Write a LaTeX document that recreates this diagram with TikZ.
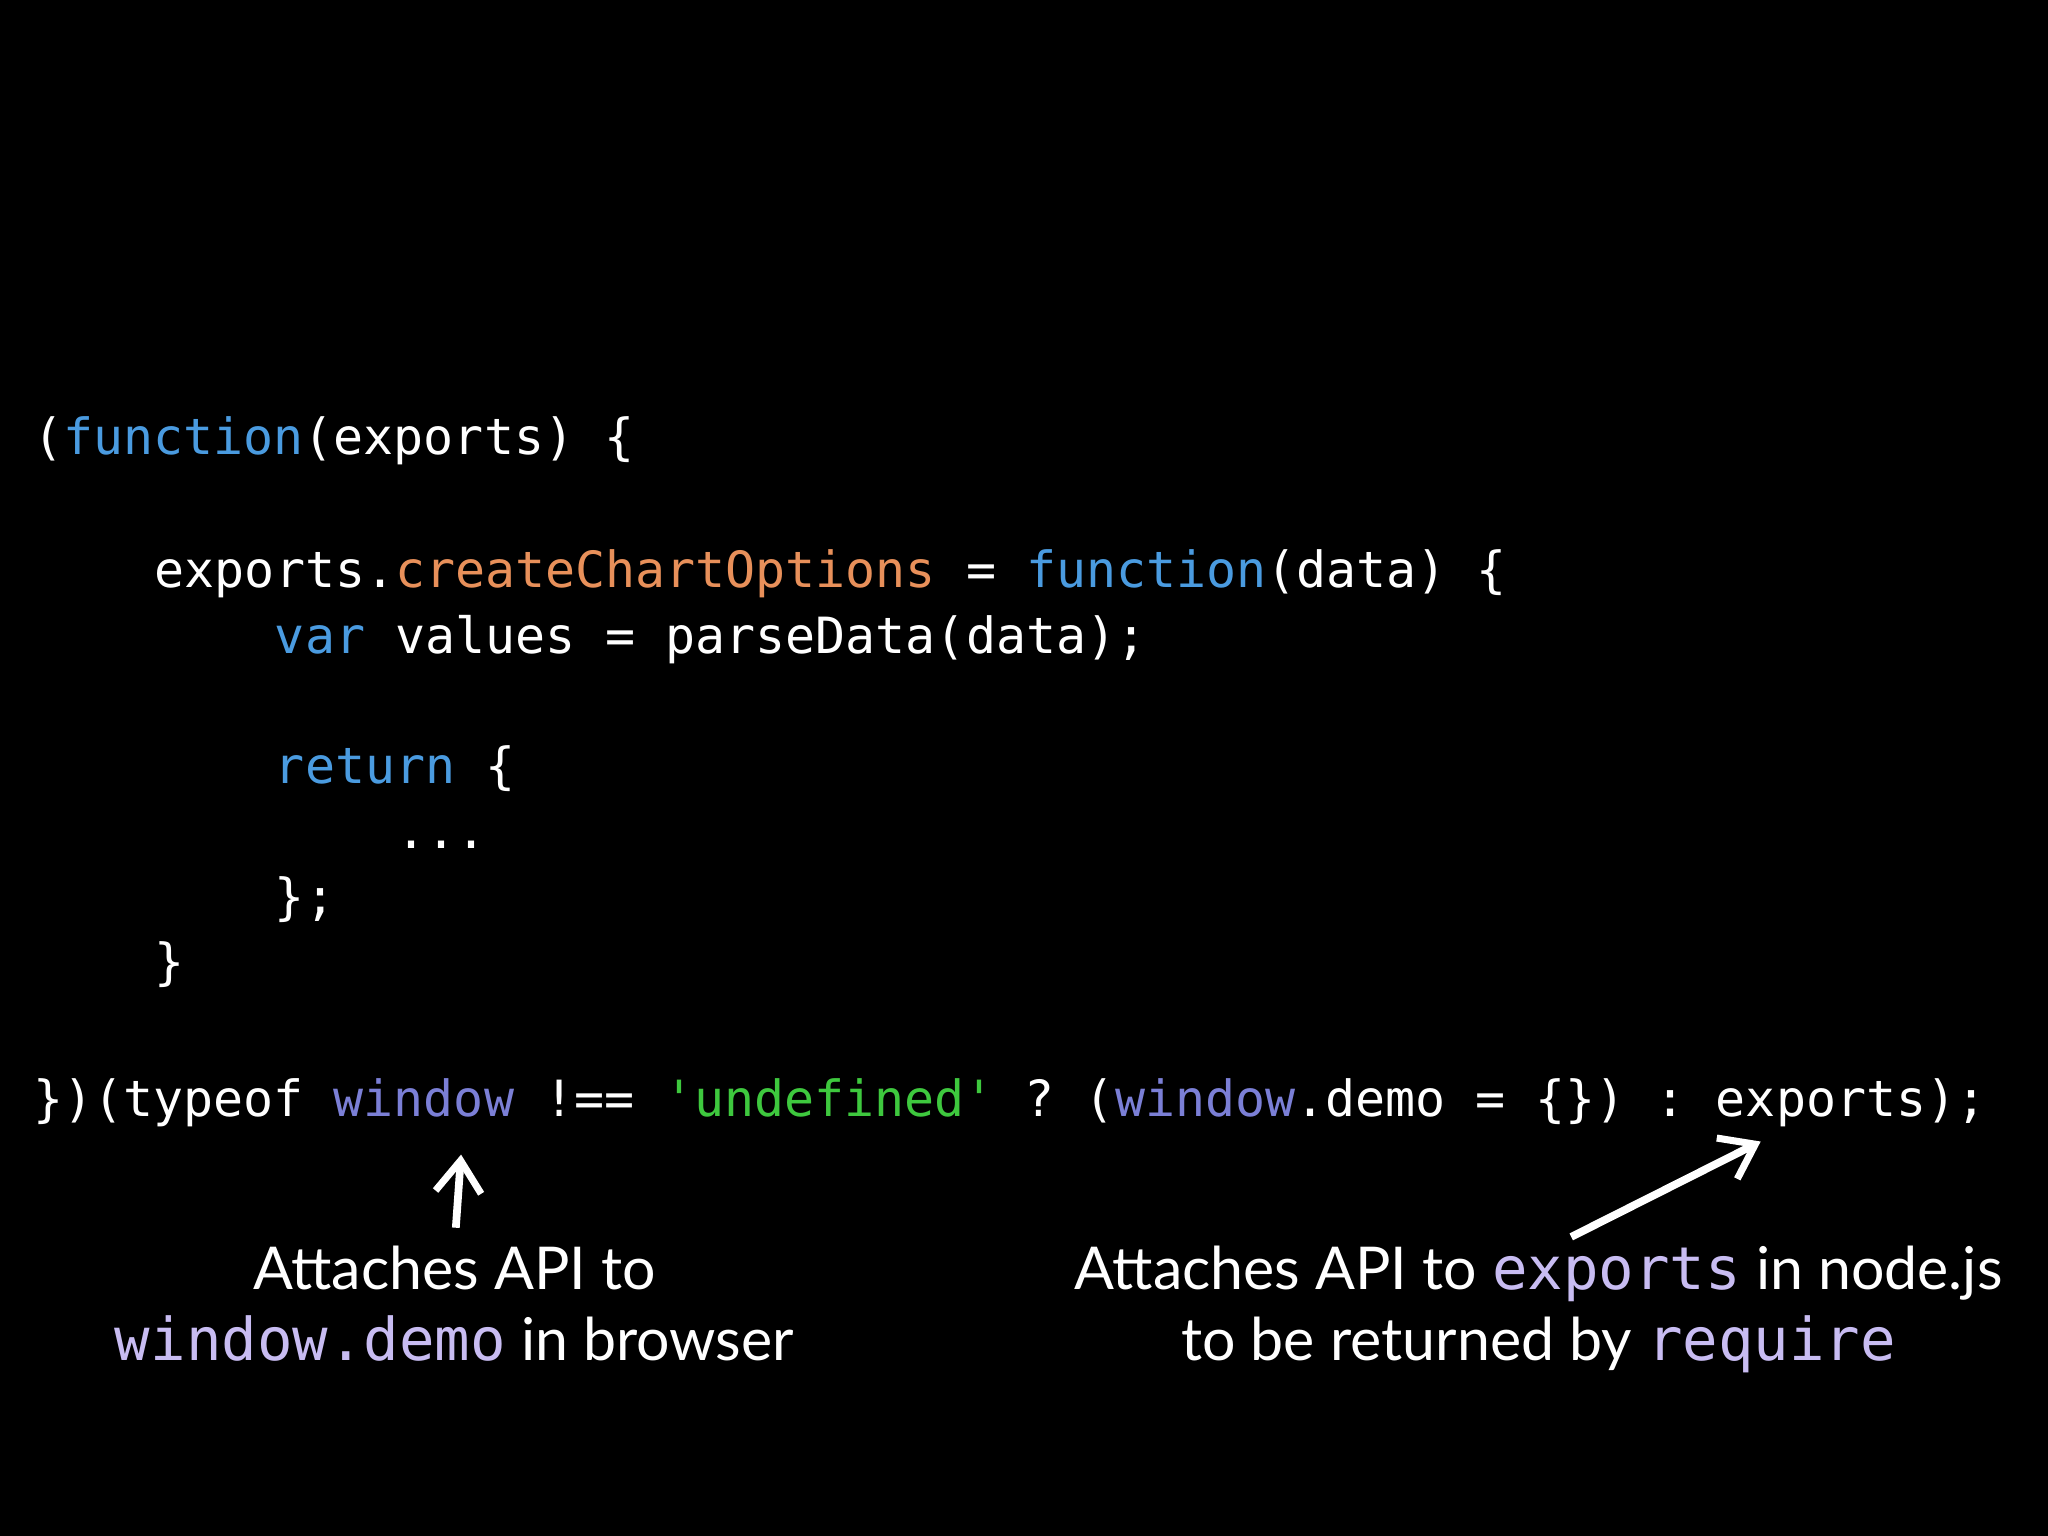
\documentclass[tikz,border=0pt]{standalone}
\usepackage{fontspec}
\setmonofont{DejaVu Sans Mono}
\setmainfont{Lato}
\usetikzlibrary{arrows.meta}
\definecolor{kw}{HTML}{4A9BE0}
\definecolor{prop}{HTML}{E8905A}
\definecolor{win}{HTML}{7B7FD6}
\definecolor{str}{HTML}{3EC83E}
\definecolor{lav}{HTML}{C8BCF2}
\begin{document}
\begin{tikzpicture}[x=0.013061cm,y=0.013061cm,
  code/.style={anchor=base west,inner sep=0,text=white,font=\ttfamily\fontsize{14.2}{16}\selectfont},
  lbl/.style={anchor=base,inner sep=0,text=white,font=\fontsize{16.8}{20}\selectfont},
  harrow/.style={draw=white,line width=2.2pt,-{Straight Barb[length=9pt,width=13pt,line width=2pt]}}]
\fill[black] (0,0) rectangle (1568,1176);
\useasboundingbox (0,0) rectangle (1568,1176);
\node[code] (l1) at (25,828) {(\textcolor{kw}{function}(exports) \{};
\node[code] (l2) at (118,726) {exports.\textcolor{prop}{createChartOptions} = \textcolor{kw}{function}(data) \{};
\node[code] (l3) at (210,676) {\textcolor{kw}{var} values = parseData(data);};
\node[code] (l4) at (210,576) {\textcolor{kw}{return} \{};
\node[code] (l5) at (303,526) {...};
\node[code] (l6) at (210,476) {\};};
\node[code] (l7) at (118,426) {\}};
\node[code] (l8) at (25,321) {\})(typeof \textcolor{win}{window} !== \textcolor{str}{'undefined'} ? (\textcolor{win}{window}.demo = \{\}) : exports);};
\node[lbl] (a1) at (348,189) {Attaches API to};
\node[lbl] (a2) at (348,134) {\textcolor{lav}{\ttfamily window.demo} in browser};
\node[lbl] (b1) at (1178,189) {Attaches API to \textcolor{lav}{\ttfamily exports} in node.js};
\node[lbl] (b2) at (1178,134) {to be returned by \textcolor{lav}{\ttfamily require}};
\coordinate (s1) at (349,236);
\coordinate (e1) at (353,292);
\coordinate (s2) at (1203,229);
\coordinate (e2) at (1348,302);
\draw[harrow] (s1) -- (e1);
\draw[harrow] (s2) -- (e2);
\end{tikzpicture}
\end{document}
